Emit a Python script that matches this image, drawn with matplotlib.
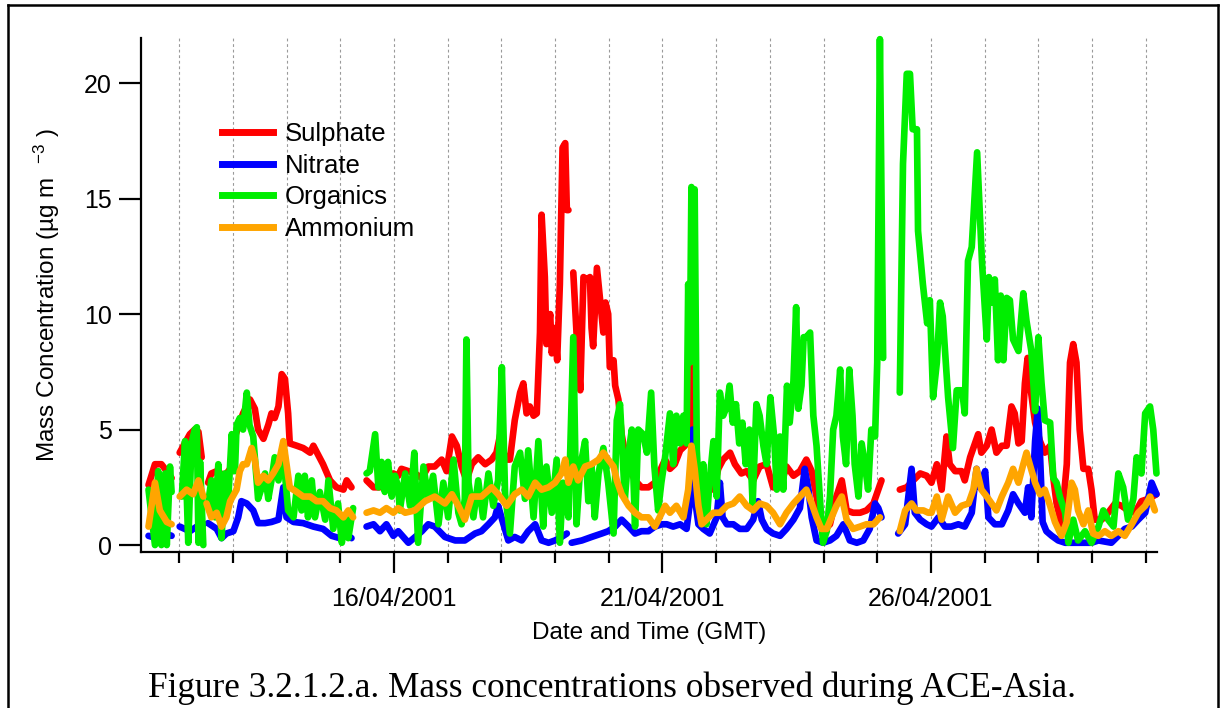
import numpy as np
import matplotlib
matplotlib.use("Agg")
import matplotlib.pyplot as plt
import matplotlib.dates as mdates
from matplotlib.lines import Line2D
from datetime import datetime

plt.rcParams['font.family'] = ['Liberation Sans', 'DejaVu Sans']
plt.rcParams['mathtext.fontset'] = 'custom'
plt.rcParams['mathtext.rm'] = 'Liberation Sans'
plt.rcParams['mathtext.it'] = 'Liberation Sans'

nan = np.nan

# time as day of April 2001 (GMT), nan = gap in the record
sul_t = [11.43, 11.55, 11.67, 11.77, 11.86, nan,
         12.01, 12.20, 12.29, 12.36, 12.42, nan,
         12.54, 12.60, 12.70, 12.85, 12.95, 13.01, 13.19, 13.32, 13.41, 13.47, 13.57, 13.66, 13.72,
         13.78, 13.85, 13.91, 13.97, 14.03, 14.06, 14.19, 14.31, 14.44, 14.50, 14.59, 14.68, 14.81,
         14.93, 15.06, 15.12, 15.21, nan,
         15.49, 15.62, 15.74, 15.86, 15.99, 16.08, 16.14, 16.27, 16.39, 16.52, 16.64, 16.76, 16.89,
         16.98, 17.08, 17.17, 17.26, 17.35, 17.45, 17.57, 17.70, 17.82, 17.91, 17.98, 18.07, 18.16,
         18.25, 18.35, 18.41, 18.47, 18.53, 18.60, 18.66, 18.72, 18.75, 18.81, 18.84, 18.91, 18.94,
         19.00, 19.04, 19.09, 19.14, 19.19, 19.22, 19.25, nan,
         19.34, 19.40, 19.47, 19.53, 19.59, 19.65, 19.68, 19.71, 19.78, 19.84, 19.90, 19.94, 19.99,
         20.02, 20.09, 20.12, 20.18, 20.24, 20.30, 20.37, 20.49, 20.61, 20.74, 20.86, 20.99,
         21.05, 21.14, 21.23, 21.33, 21.42, 21.48, 21.54, 21.57, 21.64, 21.70, 21.82, 21.95, 22.04,
         22.13, 22.26, 22.35, 22.47, 22.57, 22.69, 22.81, 22.94, 23.06, 23.19, 23.31, 23.44, 23.56,
         23.68, 23.78, 23.87, 23.99, 24.12, 24.24, 24.34, 24.43, 24.55, 24.68, 24.80, 24.93, 25.02,
         25.08, nan,
         25.42, 25.55, 25.67, 25.80, 25.92, 26.01, 26.11, 26.20, 26.29, 26.35, 26.45, 26.57, 26.63,
         26.73, 26.82, 26.88, 26.94, 27.04, 27.13, 27.22, 27.32, 27.41, 27.50, 27.56, 27.63, 27.69,
         27.75, 27.80, 27.86, 27.94, 28.03, 28.12, 28.22, 28.28, 28.34, 28.43, 28.53, 28.59, 28.65,
         28.71, 28.77, 28.84, 28.93, 28.99, 29.05, 29.18, 29.30, 29.43, 29.55, 29.67, 29.80, 29.92,
         30.05, 30.20]
sul_v = [2.6, 3.5, 3.5, 3.2, 2.9, nan,
         4.0, 4.8, 5.0, 4.9, 3.8, nan,
         2.7, 3.1, 3.2, 3.0, 3.3, 4.5, 5.7, 6.3, 5.9, 5.0, 4.6, 5.2, 5.7,
         5.5, 6.0, 7.4, 7.2, 5.7, 4.4, 4.3, 4.2, 4.0, 4.3, 3.9, 3.5, 2.8,
         2.5, 2.4, 2.8, 2.5, nan,
         2.8, 2.5, 2.5, 3.0, 3.1, 3.0, 3.3, 3.2, 3.1, 2.9, 3.4, 3.4, 3.7,
         3.2, 4.7, 4.3, 3.4, 2.8, 3.5, 3.8, 3.5, 3.7, 4.0, 4.8, 3.7, 3.7,
         5.4, 6.6, 7.0, 5.7, 6.0, 5.6, 5.7, 9.2, 14.3, 11.6, 8.7, 10.0, 8.3,
         9.4, 8.0, 11.3, 17.2, 17.4, 14.5, 14.5, nan,
         11.8, 9.2, 6.7, 11.6, 11.5, 11.6, 9.4, 8.6, 12.0, 10.6, 9.2, 10.5, 10.0,
         7.7, 8.0, 6.9, 6.3, 4.8, 4.0, 3.4, 2.8, 2.5, 2.5, 2.7, 3.4,
         3.7, 3.3, 3.5, 4.1, 4.3, 4.7, 7.7, 5.0, 3.5, 2.7, 3.0, 2.4, 3.3,
         3.7, 4.0, 3.5, 3.1, 3.2, 2.8, 3.4, 3.5, 2.5, 2.5, 3.4, 3.0, 3.2,
         3.7, 3.2, 2.1, 0.6, 0.9, 2.1, 2.8, 1.5, 1.4, 1.4, 1.5, 1.8, 2.4,
         2.8, nan,
         2.4, 2.5, 2.8, 3.1, 3.0, 2.7, 3.5, 2.4, 4.7, 3.5, 3.2, 3.2, 2.8,
         3.8, 4.4, 4.8, 4.0, 4.3, 5.0, 4.0, 4.3, 4.3, 6.0, 5.7, 4.4, 4.5,
         7.0, 8.1, 6.7, 5.3, 4.5, 4.0, 4.3, 2.9, 1.8, 0.9, 3.5, 7.9, 8.7,
         7.9, 5.0, 3.3, 3.3, 2.4, 1.1, 1.1, 1.4, 1.8, 1.7, 1.5, 1.4, 1.9,
         2.0, 2.2]

nit_t = [11.43, 11.58, 11.74, 11.86, nan,
         12.01, 12.20, 12.33, 12.45, nan,
         12.54, 12.70, 12.79, 12.88, 13.01, 13.10, 13.16, 13.26, 13.38, 13.47, 13.60, 13.72, 13.85,
         13.94, 14.00, 14.13, 14.31, 14.50, 14.68, 14.84, 14.99, 15.12, 15.21, nan,
         15.49, 15.62, 15.74, 15.86, 15.99, 16.08, 16.27, 16.52, 16.64, 16.76, 16.95, 17.14, 17.32,
         17.51, 17.63, 17.76, 17.88, 17.94, 18.04, 18.13, 18.25, 18.38, 18.50, 18.63, 18.75, 18.88,
         19.00, 19.12, 19.22, nan,
         19.31, 19.50, 19.68, 19.87, 19.99, 20.12, 20.24, 20.37, 20.49, 20.61, 20.74, 20.86, 20.99,
         21.08, 21.20, 21.33, 21.45, 21.51, 21.56, 21.60, 21.67, 21.76, 21.88, 22.01, 22.07, 22.12,
         22.20, 22.32, 22.44, 22.57, 22.69, 22.78, 22.85, 22.94, 23.06, 23.19, 23.31, 23.44, 23.56,
         23.65, 23.72, 23.78, 23.87, 23.99, 24.12, 24.24, 24.37, 24.49, 24.62, 24.74, 24.86, 24.96,
         25.02, 25.08, nan,
         25.39, 25.52, 25.64, 25.70, 25.80, 25.92, 26.01, 26.14, 26.26, 26.38, 26.51, 26.63, 26.76,
         26.85, 26.91, 27.01, 27.07, 27.19, 27.32, 27.44, 27.53, 27.63, 27.75, 27.81, 27.87, 27.94,
         27.99, 28.03, 28.08, 28.15, 28.25, 28.37, 28.50, 28.74, 28.99, 29.12, 29.36, 29.49, 29.61,
         29.74, 29.86, 29.99, 30.11, 30.20]
nit_v = [0.4, 0.3, 0.5, 0.4, nan,
         0.8, 0.6, 0.8, 0.9, nan,
         0.95, 0.7, 0.3, 0.5, 0.6, 1.2, 1.9, 1.8, 1.5, 0.95, 0.95, 1.0, 1.1,
         2.5, 1.2, 1.0, 0.95, 0.8, 0.7, 0.4, 0.3, 0.45, 0.3, nan,
         0.8, 0.9, 0.6, 0.9, 0.4, 0.6, 0.1, 0.6, 0.9, 0.8, 0.35, 0.2, 0.2,
         0.5, 0.6, 0.9, 1.2, 1.7, 0.9, 0.2, 0.35, 0.2, 0.6, 0.9, 0.2, 0.1,
         0.2, 0.35, 0.5, nan,
         0.1, 0.2, 0.35, 0.5, 0.6, 0.8, 1.1, 0.8, 0.5, 0.6, 0.6, 0.8, 0.9,
         0.9, 0.8, 0.9, 0.7, 1.8, 5.0, 2.1, 0.9, 0.7, 0.5, 1.2, 2.7, 1.2,
         0.9, 0.9, 0.7, 0.7, 1.1, 1.9, 1.1, 0.7, 0.5, 0.4, 0.7, 1.1, 1.6,
         3.3, 2.4, 1.2, 0.2, 0.1, 0.2, 0.4, 0.9, 0.2, 0.1, 0.2, 0.7, 1.8,
         1.6, 1.2, nan,
         0.5, 0.9, 3.3, 1.4, 1.1, 0.9, 0.8, 1.2, 0.8, 0.8, 0.9, 0.8, 1.4,
         3.3, 2.5, 3.2, 1.2, 0.9, 0.9, 1.5, 2.2, 1.8, 1.4, 2.5, 1.2, 4.5,
         5.9, 4.0, 1.0, 0.6, 0.4, 0.2, 0.1, 0.1, 0.1, 0.2, 0.1, 0.4, 0.7,
         0.8, 1.1, 1.4, 2.7, 2.2]

org_t = [11.43, 11.49, 11.55, 11.61, 11.67, 11.74, 11.77, 11.83, 11.86, nan,
         12.05, 12.11, 12.17, 12.23, 12.29, 12.33, 12.36, 12.39, 12.45, nan,
         12.54, 12.60, 12.67, 12.73, 12.79, 12.85, 12.91, 12.98, 13.04, 13.07, 13.13, 13.19, 13.26,
         13.31, 13.38, 13.47, 13.54, 13.60, 13.66, 13.72, 13.78, 13.85, 13.91, 13.97, 14.03, 14.13,
         14.22, 14.28, 14.34, 14.40, 14.47, 14.53, 14.62, 14.72, 14.78, 14.87, 14.96, 15.03, 15.09,
         15.15, 15.24, nan,
         15.49, 15.55, 15.65, 15.71, 15.77, 15.83, 15.89, 15.96, 16.02, 16.08, 16.11, 16.21, 16.30,
         16.38, 16.45, 16.55, 16.64, 16.73, 16.83, 16.92, 17.01, 17.11, 17.20, 17.26, 17.32, 17.35,
         17.39, 17.48, 17.57, 17.66, 17.76, 17.85, 17.94, 18.01, 18.07, 18.16, 18.25, 18.35, 18.44,
         18.50, 18.60, 18.69, 18.78, 18.84, 18.94, 19.03, 19.09, 19.15, 19.25, 19.34, 19.40, 19.47,
         19.56, 19.62, 19.68, 19.74, 19.81, 19.90, 19.99, 20.09, 20.15, 20.21, 20.30, 20.37, 20.43,
         20.49, 20.55, 20.64, 20.71, 20.79, 20.85, 20.92, 20.98, 21.05, 21.14, 21.20, 21.26, 21.33,
         21.39, 21.45, 21.48, 21.51, 21.54, 21.57, 21.60, 21.64, 21.70, 21.76, 21.82, 21.88, 21.95,
         22.01, 22.07, 22.13, 22.20, 22.25, 22.31, 22.37, 22.43, 22.49, 22.55, 22.62, 22.68, 22.75,
         22.81, 22.88, 22.94, 23.01, 23.08, 23.13, 23.19, 23.25, 23.32, 23.37, 23.44, 23.49, 23.53,
         23.59, 23.63, 23.68, 23.75, 23.81, 23.87, 23.93, 23.99, 24.06, 24.12, 24.18, 24.24, 24.31,
         24.36, 24.42, 24.48, 24.54, 24.58, 24.65, 24.71, 24.77, 24.83, 24.89, 24.96, 25.00, 25.02,
         25.05, 25.11, nan,
         25.42, 25.48, 25.55, 25.61, 25.66, 25.74, 25.76, 25.85, 25.93, 25.98, 26.04, 26.11, 26.17,
         26.22, 26.32, 26.41, 26.48, 26.58, 26.63, 26.69, 26.76, 26.86, 26.95, 27.04, 27.08, 27.13,
         27.19, 27.25, 27.30, 27.35, 27.41, 27.47, 27.53, 27.63, 27.72, 27.78, 27.87, 27.94, 28.00,
         28.06, 28.12, 28.22, 28.28, 28.34, 28.40, 28.50, 28.56, 28.65, 28.74, 28.87, 28.99, 29.12,
         29.21, 29.30, 29.40, 29.49, 29.58, 29.67, 29.77, 29.83, 29.92, 29.99, 30.08, 30.14, 30.20]
org_v = [2.4, 1.2, 0.0, 3.2, 0.0, 3.1, 0.0, 3.4, 2.3, nan,
         2.1, 4.5, 0.1, 4.4, 5.0, 5.1, 0.1, 3.6, 0.0, nan,
         1.8, 2.8, 1.2, 3.5, 0.3, 3.1, 1.8, 4.8, 3.2, 5.2, 5.5, 5.0, 6.6,
         5.2, 4.7, 2.0, 2.5, 3.1, 2.0, 2.8, 3.8, 2.8, 3.8, 3.1, 1.5, 1.2,
         3.0, 1.5, 3.0, 1.2, 2.8, 1.2, 2.3, 1.1, 2.8, 0.7, 1.8, 0.1, 1.2,
         0.3, 1.6, nan,
         3.1, 3.2, 4.8, 2.5, 3.6, 2.3, 3.6, 2.1, 3.0, 2.5, 1.5, 3.1, 1.7,
         4.0, 0.1, 3.4, 2.0, 3.0, 0.9, 2.7, 1.2, 3.7, 1.4, 0.9, 2.0, 8.9,
         2.7, 1.2, 2.8, 1.2, 3.1, 1.7, 2.8, 7.7, 2.2, 0.5, 3.4, 4.0, 2.0,
         4.1, 1.2, 4.5, 0.8, 3.4, 1.4, 3.7, 0.1, 2.7, 1.2, 9.0, 0.9, 3.4,
         4.5, 1.9, 3.4, 1.2, 3.1, 4.2, 2.7, 0.5, 5.4, 6.1, 2.0, 4.0, 5.0,
         0.8, 5.0, 4.8, 4.0, 6.6, 3.4, 1.5, 2.7, 3.8, 5.7, 3.5, 5.6, 4.4,
         5.6, 4.4, 11.3, 7.9, 15.5, 9.3, 15.4, 4.1, 1.4, 3.5, 0.9, 2.8, 4.5,
         2.1, 6.6, 5.6, 6.0, 6.9, 5.3, 6.1, 4.4, 5.3, 3.5, 5.0, 1.8, 6.1,
         5.6, 4.3, 3.5, 6.4, 4.7, 2.4, 4.7, 2.4, 6.9, 5.3, 7.1, 10.3, 5.9,
         6.9, 9.0, 9.0, 9.2, 5.6, 4.3, 2.1, 0.1, 0.6, 2.1, 5.0, 5.6, 7.6,
         4.7, 3.5, 7.6, 5.6, 3.5, 2.1, 4.4, 3.5, 2.4, 5.0, 4.7, 7.9, 13.6,
         21.9, 8.1, nan,
         6.6, 16.5, 20.4, 20.4, 18.0, 18.0, 13.6, 11.3, 9.6, 10.6, 6.4, 7.9, 10.5,
         9.9, 6.4, 4.2, 6.7, 6.7, 5.7, 12.3, 12.9, 17.0, 12.3, 8.9, 11.6, 10.5,
         11.5, 8.0, 10.8, 8.0, 10.7, 10.6, 8.9, 8.4, 10.9, 9.7, 8.4, 5.8, 9.0,
         7.0, 5.4, 5.3, 2.9, 2.7, 2.1, 1.4, 0.1, 1.1, 0.2, 0.6, 0.1, 0.8,
         1.5, 1.1, 0.8, 3.1, 2.5, 1.1, 2.0, 3.8, 3.1, 5.7, 6.0, 5.0, 3.1]

amm_t = [11.43, 11.55, 11.64, 11.77, 11.86, nan,
         12.01, 12.14, 12.26, 12.36, 12.45, nan,
         12.51, 12.60, 12.70, 12.79, 12.88, 12.95, 13.07, 13.13, 13.19, 13.26, 13.35, 13.41, 13.47,
         13.57, 13.66, 13.75, 13.85, 13.94, 14.00, 14.06, 14.19, 14.31, 14.44, 14.56, 14.68, 14.81,
         14.93, 15.06, 15.15, 15.24, nan,
         15.49, 15.62, 15.74, 15.86, 15.99, 16.08, 16.21, 16.39, 16.58, 16.76, 16.95, 17.08, 17.20,
         17.32, 17.45, 17.63, 17.82, 17.94, 18.10, 18.25, 18.38, 18.50, 18.63, 18.75, 18.88, 19.00,
         19.12, 19.19, 19.25, 19.34, 19.43, 19.56, 19.68, 19.81, 19.90, 19.99, 20.09, 20.15, 20.24,
         20.37, 20.49, 20.61, 20.74, 20.86, 20.99, 21.05, 21.14, 21.26, 21.39, 21.48, 21.54, 21.60,
         21.67, 21.73, 21.82, 21.95, 22.07, 22.20, 22.32, 22.44, 22.57, 22.69, 22.81, 22.94, 23.06,
         23.19, 23.31, 23.44, 23.56, 23.68, 23.78, 23.87, 23.96, 24.06, 24.15, 24.24, 24.34, 24.43,
         24.55, 24.68, 24.80, 24.93, 25.05, nan,
         25.42, 25.52, 25.64, 25.73, 25.86, 25.95, 26.01, 26.11, 26.20, 26.32, 26.45, 26.57, 26.70,
         26.79, 26.85, 26.94, 27.04, 27.13, 27.22, 27.32, 27.44, 27.53, 27.63, 27.72, 27.78, 27.84,
         27.94, 28.03, 28.12, 28.22, 28.31, 28.43, 28.53, 28.62, 28.68, 28.74, 28.84, 28.93, 29.02,
         29.12, 29.24, 29.36, 29.49, 29.61, 29.74, 29.86, 29.99, 30.08, 30.17]
amm_v = [0.8, 2.7, 1.5, 1.0, 0.9, nan,
         2.1, 2.4, 2.2, 2.8, 2.1, nan,
         1.8, 1.2, 1.4, 0.8, 1.2, 1.9, 2.4, 3.2, 3.5, 3.5, 4.2, 3.7, 2.7,
         3.0, 2.8, 3.1, 3.5, 4.5, 3.5, 2.5, 2.3, 2.1, 2.1, 1.9, 1.9, 1.6,
         1.5, 1.2, 1.5, 1.2, nan,
         1.4, 1.5, 1.4, 1.6, 1.4, 1.6, 1.4, 1.5, 1.9, 2.1, 1.8, 2.2, 1.7,
         1.1, 2.1, 2.1, 2.5, 2.2, 1.7, 2.2, 2.4, 2.1, 2.7, 2.4, 2.5, 2.7,
         3.1, 3.7, 2.7, 3.4, 2.8, 3.4, 3.5, 3.7, 4.0, 3.7, 3.4, 2.8, 2.2,
         1.7, 1.4, 1.2, 1.2, 0.8, 1.4, 1.7, 1.4, 1.7, 1.2, 2.4, 4.3, 3.3,
         1.7, 0.9, 1.1, 1.4, 1.4, 1.7, 1.8, 2.1, 1.7, 1.5, 1.8, 1.7, 1.4,
         0.9, 1.4, 1.8, 2.1, 2.4, 1.8, 1.2, 0.7, 0.7, 1.2, 1.7, 2.1, 1.1,
         0.7, 0.8, 0.9, 0.9, 1.2, nan,
         0.6, 1.5, 1.8, 1.5, 1.5, 1.4, 1.4, 2.1, 1.1, 2.1, 1.4, 1.7, 1.8,
         2.4, 3.3, 2.4, 2.1, 1.8, 1.5, 2.1, 2.7, 3.3, 2.7, 3.5, 4.0, 3.5,
         2.7, 2.2, 2.4, 1.7, 1.0, 0.4, 1.0, 2.7, 2.4, 1.5, 0.9, 1.5, 0.5,
         0.4, 0.6, 0.4, 0.6, 0.4, 0.9, 1.4, 1.7, 2.1, 1.5]

series = [('Sulphate', sul_t, sul_v, '#ff0000'),
          ('Nitrate', nit_t, nit_v, '#0000ff'),
          ('Organics', org_t, org_v, '#00ee00'),
          ('Ammonium', amm_t, amm_v, '#ffa500')]

apr0 = mdates.date2num(datetime(2001, 4, 1))

W, H = 1223, 708
fig = plt.figure(figsize=(W / 100, H / 100), dpi=100)
ax = fig.add_axes([141 / W, 1 - 552 / H, (1157 - 141) / W, (552 - 38) / H])

for name, t, v, c in series:
    x = apr0 + np.array(t) - 1
    ax.plot(x, v, color=c, lw=4.8, solid_joinstyle='round', solid_capstyle='round', clip_on=False)

ax.set_xlim(apr0 + 11.29 - 1, apr0 + 30.21 - 1)
ax.set_ylim(-0.3, 21.95)

ax.xaxis.set_major_locator(mdates.DayLocator(bymonthday=[16, 21, 26]))
ax.xaxis.set_minor_locator(mdates.DayLocator())
ax.xaxis.set_major_formatter(mdates.DateFormatter('%d/%m/%Y'))
ax.set_yticks([0, 5, 10, 15, 20])

ax.grid(True, which='both', axis='x', color='#9a9a9a', lw=0.8, ls=(0, (2.5, 2.5)))
ax.set_axisbelow(True)

for s in ['top', 'right']:
    ax.spines[s].set_visible(False)
for s in ['left', 'bottom']:
    ax.spines[s].set_linewidth(1.6)

ax.tick_params(axis='x', which='major', length=15, width=1.6, pad=10, labelsize=18)
ax.tick_params(axis='x', which='minor', length=8, width=1.6)
ax.tick_params(axis='y', which='major', length=16, width=1.6, pad=5, labelsize=18)

ax.set_xlabel('Date and Time (GMT)', fontsize=17.5, labelpad=8)
ax.set_ylabel('Mass Concentration (µg m  $^{-3}$ )', fontsize=17.5, labelpad=16)

handles = [Line2D([], [], color=c, lw=5) for _, _, _, c in series]
fig.legend(handles, [n for n, _, _, _ in series], loc='upper left',
           bbox_to_anchor=(222 / W, 1 - 122 / H), frameon=False, fontsize=18.5,
           handlelength=2.0, handletextpad=0.45, labelspacing=0.3,
           borderpad=0, borderaxespad=0)

fig.text(612 / W, 1 - 688 / H, 'Figure 3.2.1.2.a. Mass concentrations observed during ACE-Asia.',
         ha='center', va='center', fontsize=25.4, family='Liberation Serif')

# page frame
for xs, ys in [([8, 8], [5, H]), ([8, 1218], [5, 5]), ([1218, 1218], [5, H])]:
    fig.add_artist(Line2D([x / W for x in xs], [1 - y / H for y in ys], color='black', lw=1.8))

fig.savefig('out.png', dpi=100)
